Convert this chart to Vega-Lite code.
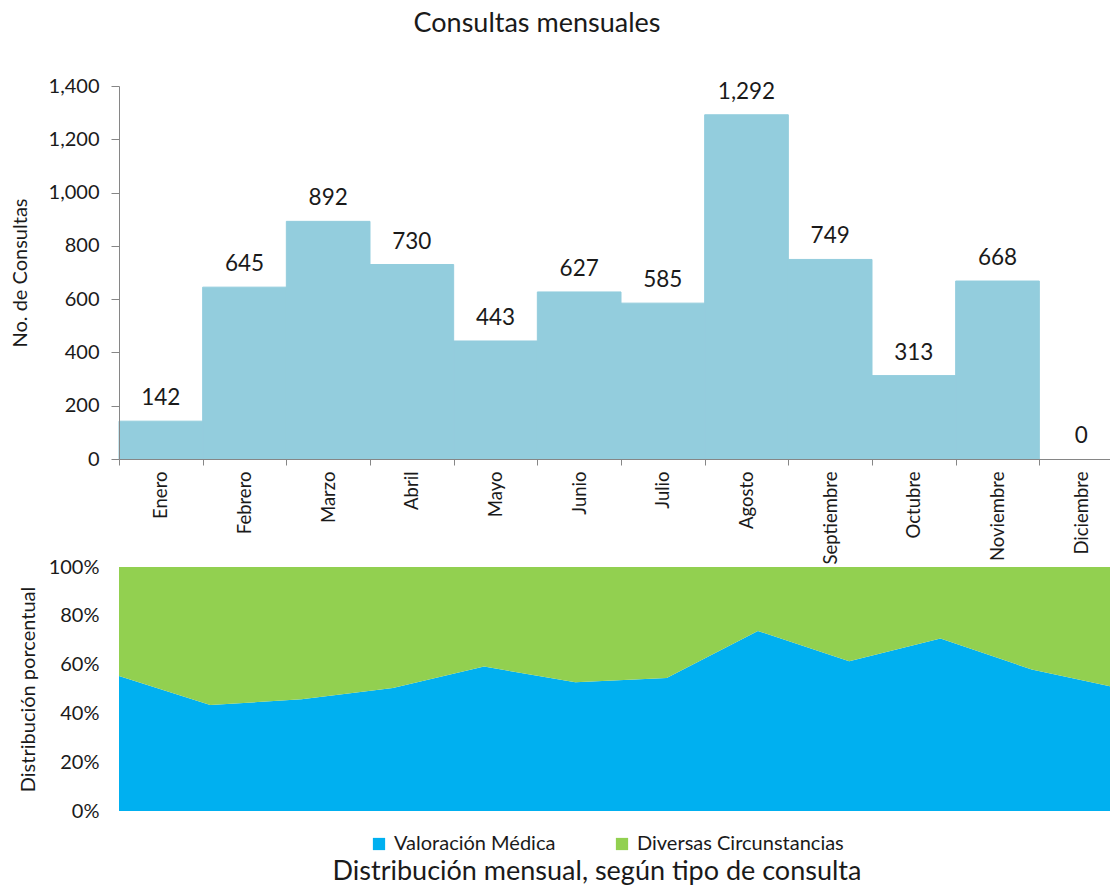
{
  "$schema": "https://vega.github.io/schema/vega-lite/v6.json",
  "padding": {"left": 10, "top": 10, "right": 0, "bottom": 0},
  "background": "white",
  "config": {
    "font": "Lato",
    "view": {"stroke": null},
    "axis": {"labelColor": "#1a1a1a", "titleColor": "#1a1a1a", "titleFontWeight": "normal", "grid": false, "domainColor": "#868686", "tickColor": "#868686", "labelFont": "Lato", "titleFont": "Lato"},
    "legend": {"labelFont": "Lato", "labelColor": "#1a1a1a"},
    "title": {"font": "Lato", "fontWeight": "normal", "color": "#1a1a1a"}
  },
  "datasets": {
    "consultas": [
      {"mes": "Enero", "consultas": 142},
      {"mes": "Febrero", "consultas": 645},
      {"mes": "Marzo", "consultas": 892},
      {"mes": "Abril", "consultas": 730},
      {"mes": "Mayo", "consultas": 443},
      {"mes": "Junio", "consultas": 627},
      {"mes": "Julio", "consultas": 585},
      {"mes": "Agosto", "consultas": 1292},
      {"mes": "Septiembre", "consultas": 749},
      {"mes": "Octubre", "consultas": 313},
      {"mes": "Noviembre", "consultas": 668},
      {"mes": "Diciembre", "consultas": 0}
    ],
    "distribucion": [
      {"mes": "Enero", "tipo": "Valoración Médica", "pct": 55.3},
      {"mes": "Enero", "tipo": "Diversas Circunstancias", "pct": 44.7},
      {"mes": "Febrero", "tipo": "Valoración Médica", "pct": 43.4},
      {"mes": "Febrero", "tipo": "Diversas Circunstancias", "pct": 56.6},
      {"mes": "Marzo", "tipo": "Valoración Médica", "pct": 45.8},
      {"mes": "Marzo", "tipo": "Diversas Circunstancias", "pct": 54.2},
      {"mes": "Abril", "tipo": "Valoración Médica", "pct": 50.4},
      {"mes": "Abril", "tipo": "Diversas Circunstancias", "pct": 49.6},
      {"mes": "Mayo", "tipo": "Valoración Médica", "pct": 59.2},
      {"mes": "Mayo", "tipo": "Diversas Circunstancias", "pct": 40.8},
      {"mes": "Junio", "tipo": "Valoración Médica", "pct": 52.8},
      {"mes": "Junio", "tipo": "Diversas Circunstancias", "pct": 47.2},
      {"mes": "Julio", "tipo": "Valoración Médica", "pct": 54.5},
      {"mes": "Julio", "tipo": "Diversas Circunstancias", "pct": 45.5},
      {"mes": "Agosto", "tipo": "Valoración Médica", "pct": 73.8},
      {"mes": "Agosto", "tipo": "Diversas Circunstancias", "pct": 26.2},
      {"mes": "Septiembre", "tipo": "Valoración Médica", "pct": 61.4},
      {"mes": "Septiembre", "tipo": "Diversas Circunstancias", "pct": 38.6},
      {"mes": "Octubre", "tipo": "Valoración Médica", "pct": 70.7},
      {"mes": "Octubre", "tipo": "Diversas Circunstancias", "pct": 29.3},
      {"mes": "Noviembre", "tipo": "Valoración Médica", "pct": 58.0},
      {"mes": "Noviembre", "tipo": "Diversas Circunstancias", "pct": 42.0},
      {"mes": "Diciembre", "tipo": "Valoración Médica", "pct": 50.0},
      {"mes": "Diciembre", "tipo": "Diversas Circunstancias", "pct": 50.0}
    ]
  },
  "vconcat": [
    {
      "width": 1004,
      "height": 373,
      "data": {"name": "consultas"},
      "title": {"text": "Consultas mensuales", "fontSize": 27, "dx": -84, "offset": 38},
      "encoding": {
        "x": {
          "field": "mes", "type": "nominal",
          "sort": ["Enero","Febrero","Marzo","Abril","Mayo","Junio","Julio","Agosto","Septiembre","Octubre","Noviembre","Diciembre"],
          "scale": {"paddingInner": 0, "paddingOuter": 0},
          "axis": {"title": null, "labelAngle": -90, "labelFontSize": 18.5, "tickBand": "extent", "tickSize": 6, "labelPadding": 6, "zindex": 1}
        },
        "y": {
          "field": "consultas", "type": "quantitative",
          "scale": {"domain": [0, 1400]},
          "axis": {"title": "No. de Consultas", "titleFontSize": 20, "labelFontSize": 20, "format": ",.0f", "values": [0,200,400,600,800,1000,1200,1400], "tickSize": 8, "labelPadding": 12, "titlePadding": 18, "zindex": 1}
        }
      },
      "layer": [
        {"mark": {"type": "bar", "color": "#93CDDD", "stroke": "#93CDDD"},
         "encoding": {"strokeWidth": {"condition": {"test": "datum.consultas > 0", "value": 1}, "value": 0}}},
        {"mark": {"type": "text", "fontSize": 22.5, "dy": -16, "baseline": "alphabetic", "color": "#1a1a1a"},
         "encoding": {"text": {"field": "consultas", "type": "quantitative", "format": ",.0f"}}}
      ]
    },
    {
      "width": 1004,
      "height": 244,
      "data": {"name": "distribucion"},
      "title": {"text": "Distribución mensual, según tipo de consulta", "orient": "bottom", "fontSize": 27, "dx": -24, "offset": 5},
      "mark": {"type": "area"},
      "encoding": {
        "x": {
          "field": "mes", "type": "ordinal",
          "sort": ["Enero","Febrero","Marzo","Abril","Mayo","Junio","Julio","Agosto","Septiembre","Octubre","Noviembre","Diciembre"],
          "scale": {"type": "point", "padding": 0},
          "axis": null
        },
        "y": {
          "field": "pct", "type": "quantitative", "stack": "normalize",
          "axis": {"title": "Distribución porcentual", "titleFontSize": 20, "labelFontSize": 20, "format": "%", "values": [0,0.2,0.4,0.6,0.8,1], "domain": false, "ticks": false, "labelPadding": 20, "titlePadding": 10}
        },
        "color": {
          "field": "tipo", "type": "nominal",
          "scale": {"domain": ["Valoración Médica", "Diversas Circunstancias"], "range": ["#00B0F0", "#92D050"]},
          "legend": {"orient": "none", "legendX": 250, "legendY": 267, "title": null, "direction": "horizontal", "symbolType": "square", "labelFontSize": 20, "labelLimit": 0, "symbolSize": 150, "columnPadding": 56, "labelOffset": 5, "symbolStrokeWidth": 0}
        },
        "order": {"field": "tipo", "sort": "descending"}
      }
    }
  ],
  "spacing": 108,
  "bounds": "flush",
  "resolve": {"scale": {"x": "independent", "y": "independent", "color": "independent"}}
}
